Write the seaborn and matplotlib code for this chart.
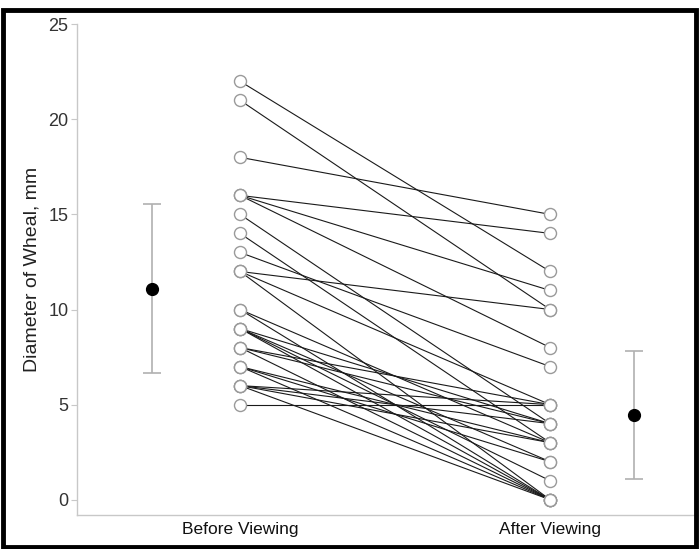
import numpy as np
import pandas as pd
import matplotlib
matplotlib.use('Agg')
import matplotlib.pyplot as plt
import seaborn as sns
from matplotlib.patches import Rectangle

# paired wheal diameters (mm), one entry per subject
before = [22, 21, 18, 16, 16, 16, 15, 14, 13, 12, 12, 12, 10, 10, 9, 9, 9, 9,
          8, 8, 8, 7, 7, 7, 6, 6, 6, 6, 5]
after = [12, 10, 15, 14, 11, 8, 4, 3, 7, 10, 5, 0, 3, 0, 4, 1, 0, 2,
         5, 0, 4, 2, 0, 3, 5, 4, 3, 0, 5]

conditions = ['Before Viewing', 'After Viewing']
group_mean = [11.1, 4.45]
group_sd = [4.45, 3.35]

sns.set_theme(style='white')
plt.rcParams['font.family'] = ['Liberation Sans', 'DejaVu Sans']

long = pd.DataFrame({
    'subject': list(range(len(before))) * 2,
    'pos': [0] * len(before) + [1] * len(after),
    'diameter': before + after,
})

fig = plt.figure(figsize=(6.99, 5.49), dpi=100)
ax = fig.add_axes([0.110, 0.062, 0.89, 0.894])

sns.lineplot(data=long, x='pos', y='diameter', units='subject', estimator=None,
             color='#1a1a1a', linewidth=0.8, legend=False, ax=ax, zorder=2)
sns.scatterplot(data=long, x='pos', y='diameter', s=75, facecolor='white',
                edgecolor='#9a9a9a', linewidth=1.0, legend=False, ax=ax, zorder=3)

# summary points (mean +/- SD) set off to the sides
ax.errorbar([-0.284, 1.27], group_mean, yerr=group_sd, fmt='o', color='black',
            markersize=8.5, ecolor='#b0b0b0', elinewidth=1.2, capsize=6.5,
            capthick=1.2, zorder=4)

ax.set_xlim(-0.526, 1.48)
ax.set_ylim(-0.8, 25)
ax.set_xticks([0, 1])
ax.set_xticklabels(conditions)
ax.set_yticks([0, 5, 10, 15, 20, 25])
ax.set_xlabel('')
ax.set_ylabel('Diameter of Wheal, mm', fontsize=14, color='#222222', labelpad=6)

sns.despine(ax=ax, top=True, right=True)
for side in ['left', 'bottom']:
    ax.spines[side].set_color('#c8c8c8')
    ax.spines[side].set_linewidth(1.0)
ax.spines['left'].set_bounds(-0.8, 25)
ax.tick_params(axis='y', length=4, width=0.8, color='#c8c8c8', labelsize=13,
               labelcolor='#333333', pad=2, left=True)
ax.tick_params(axis='x', length=0, labelsize=12.5, labelcolor='#111111', pad=5)

# black frame around the whole picture
fig.patches.append(Rectangle((0.004, 0.004), 0.992, 0.978, transform=fig.transFigure,
                             fill=False, edgecolor='black', linewidth=3.5))

fig.savefig('out.png', dpi=100)
